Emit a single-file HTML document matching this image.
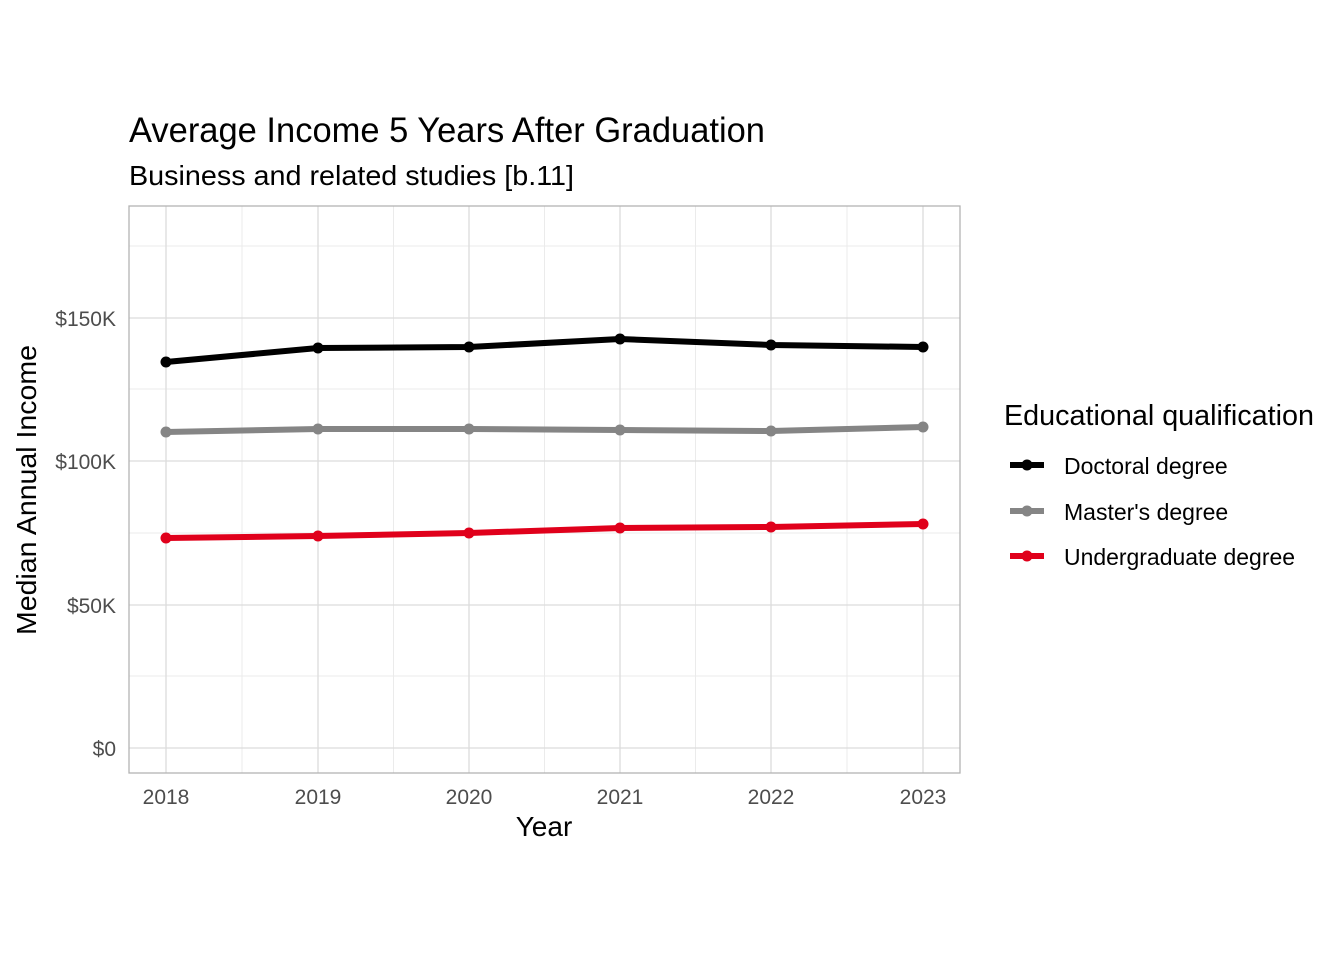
<!DOCTYPE html>
<html><head><meta charset="utf-8"><style>body{margin:0;background:#fff}svg{display:block}</style></head><body>
<svg width="1344" height="960" xmlns="http://www.w3.org/2000/svg" font-family="Liberation Sans, Arial, sans-serif">
<rect width="1344" height="960" fill="#fff"/>
<g stroke="#ebebeb" stroke-width="1">
<line x1="129" x2="960" y1="676" y2="676"/><line x1="129" x2="960" y1="533" y2="533"/><line x1="129" x2="960" y1="389" y2="389"/><line x1="129" x2="960" y1="246" y2="246"/>
<line x1="242" x2="242" y1="206" y2="773"/><line x1="393.5" x2="393.5" y1="206" y2="773"/><line x1="544.5" x2="544.5" y1="206" y2="773"/><line x1="695.5" x2="695.5" y1="206" y2="773"/><line x1="847" x2="847" y1="206" y2="773"/>
</g>
<g stroke="#dcdcdc" stroke-width="1.3">
<line x1="129" x2="960" y1="748" y2="748"/><line x1="129" x2="960" y1="605" y2="605"/><line x1="129" x2="960" y1="461" y2="461"/><line x1="129" x2="960" y1="318" y2="318"/>
<line x1="166" x2="166" y1="206" y2="773"/><line x1="318" x2="318" y1="206" y2="773"/><line x1="469" x2="469" y1="206" y2="773"/><line x1="620" x2="620" y1="206" y2="773"/><line x1="771" x2="771" y1="206" y2="773"/><line x1="923" x2="923" y1="206" y2="773"/>
</g>
<rect x="129" y="206" width="831" height="567" fill="none" stroke="#b3b3b3" stroke-width="1.3"/>
<g fill="none" stroke-width="6" stroke-linejoin="round">
<polyline stroke="#000" points="166,362 318,348 469,347 620,339 771,345 923,347"/>
<polyline stroke="#858585" points="166,432 318,429 469,429 620,430 771,431 923,427"/>
<polyline stroke="#e0001b" points="166,538 318,536 469,533 620,528 771,527 923,524"/>
</g>
<g fill="#000"><circle cx="166" cy="362" r="5.5"/><circle cx="318" cy="348" r="5.5"/><circle cx="469" cy="347" r="5.5"/><circle cx="620" cy="339" r="5.5"/><circle cx="771" cy="345" r="5.5"/><circle cx="923" cy="347" r="5.5"/></g>
<g fill="#858585"><circle cx="166" cy="432" r="5.5"/><circle cx="318" cy="429" r="5.5"/><circle cx="469" cy="429" r="5.5"/><circle cx="620" cy="430" r="5.5"/><circle cx="771" cy="431" r="5.5"/><circle cx="923" cy="427" r="5.5"/></g>
<g fill="#e0001b"><circle cx="166" cy="538" r="5.5"/><circle cx="318" cy="536" r="5.5"/><circle cx="469" cy="533" r="5.5"/><circle cx="620" cy="528" r="5.5"/><circle cx="771" cy="527" r="5.5"/><circle cx="923" cy="524" r="5.5"/></g>
<g fill="#4d4d4d" font-size="21" text-anchor="end">
<text x="116" y="756">$0</text><text x="116" y="613">$50K</text><text x="116" y="469">$100K</text><text x="116" y="326">$150K</text>
</g>
<g fill="#4d4d4d" font-size="21" text-anchor="middle">
<text x="166" y="804">2018</text><text x="318" y="804">2019</text><text x="469" y="804">2020</text><text x="620" y="804">2021</text><text x="771" y="804">2022</text><text x="923" y="804">2023</text>
</g>
<text x="544" y="836" font-size="28" text-anchor="middle">Year</text>
<text transform="translate(36,490) rotate(-90)" font-size="28" text-anchor="middle" textLength="290" lengthAdjust="spacingAndGlyphs">Median Annual Income</text>
<text x="129" y="142" font-size="35" textLength="636" lengthAdjust="spacingAndGlyphs">Average Income 5 Years After Graduation</text>
<text x="129" y="185" font-size="28" textLength="445" lengthAdjust="spacingAndGlyphs">Business and related studies [b.11]</text>
<text x="1004" y="425" font-size="29" textLength="310" lengthAdjust="spacingAndGlyphs">Educational qualification</text>
<line x1="1010" x2="1044" y1="465" y2="465" stroke="#000" stroke-width="6"/><circle cx="1027" cy="465" r="5.5"/>
<line x1="1010" x2="1044" y1="511" y2="511" stroke="#858585" stroke-width="6"/><circle cx="1027" cy="511" r="5.5" fill="#858585"/>
<line x1="1010" x2="1044" y1="556" y2="556" stroke="#e0001b" stroke-width="6"/><circle cx="1027" cy="556" r="5.5" fill="#e0001b"/>
<g font-size="23"><text x="1064" y="474">Doctoral degree</text><text x="1064" y="520">Master's degree</text><text x="1064" y="565" textLength="231" lengthAdjust="spacingAndGlyphs">Undergraduate degree</text></g>
</svg>
</body></html>
